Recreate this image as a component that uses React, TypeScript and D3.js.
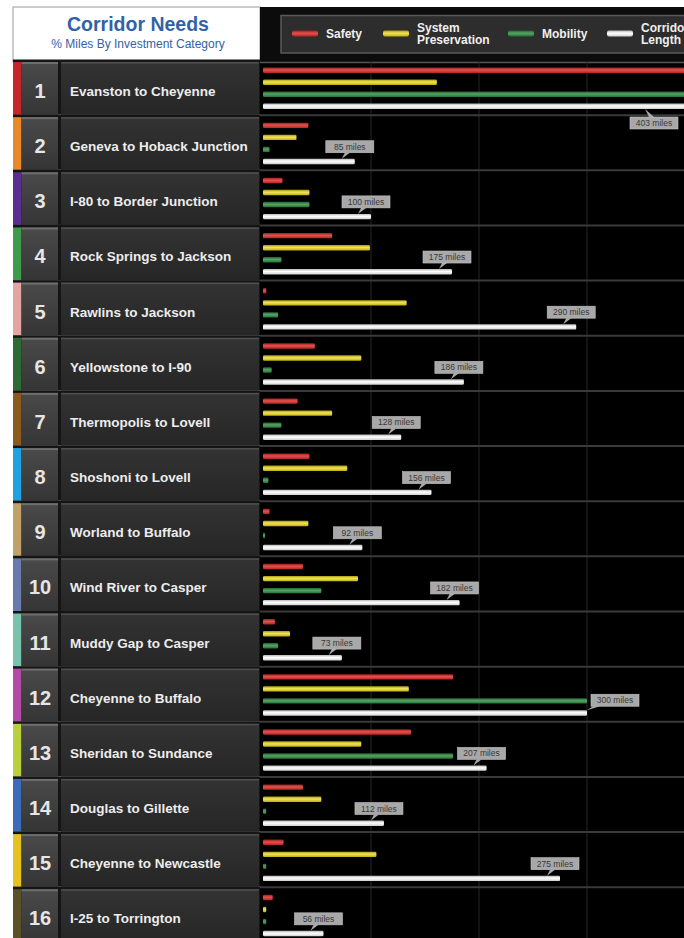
import React from "react";
import * as d3 from "d3";

// corridor names, top to bottom
const corridors = [
  "Evanston to Cheyenne",
  "Geneva to Hoback Junction",
  "I-80 to Border Junction",
  "Rock Springs to Jackson",
  "Rawlins to Jackson",
  "Yellowstone to I-90",
  "Thermopolis to Lovell",
  "Shoshoni to Lovell",
  "Worland to Buffalo",
  "Wind River to Casper",
  "Muddy Gap to Casper",
  "Cheyenne to Buffalo",
  "Sheridan to Sundance",
  "Douglas to Gillette",
  "Cheyenne to Newcastle",
  "I-25 to Torrington",
];

// miles per investment category
const safety = [403, 42, 18, 64, 3, 48, 32, 43, 6, 37, 11, 176, 137, 37, 19, 9];
const preservation = [161, 31, 43, 99, 133, 91, 64, 78, 42, 88, 25, 135, 91, 54, 105, 3];
const mobility = [403, 6, 43, 17, 14, 8, 17, 5, 2, 54, 14, 300, 176, 3, 3, 3];
const corridorLength = [403, 85, 100, 175, 290, 186, 128, 156, 92, 182, 73, 300, 207, 112, 275, 56];

const legendLabels = ["Safety", "System|Preservation", "Mobility", "Corridor|Length"];
const gridTicks = [100, 200, 300];

const stripeColors = [
  "#c4262c", "#e98a2a", "#5a2f8f", "#3f9a4c", "#e3a4a2", "#2f6a34", "#8b5a1f", "#1fa3e0",
  "#bfa16a", "#6a7bab", "#79c3ae", "#b24aa6", "#b9cf3b", "#3c6bb8", "#e5c21f", "#5b5128",
];

const barGrad = [
  { id: "gRed", stops: ["#9e1c1c", "#e4524c", "#b22626"] },
  { id: "gYel", stops: ["#a89a0c", "#f2e458", "#bfae14"] },
  { id: "gGrn", stops: ["#24602f", "#52a663", "#2a6e37"] },
  { id: "gWht", stops: ["#b8b8b8", "#ffffff", "#cfcfcf"] },
];

const W = 684;
const H = 938;
const FONT = "'Liberation Sans', Arial, Helvetica, sans-serif";

export default function App() {
  const x = d3.scaleLinear().domain([0, 400]).range([263, 695]);
  const y = d3.scaleBand<number>().domain(d3.range(corridors.length)).range([62, 62 + 16 * 55.15]);
  const keys = ["safety", "preservation", "mobility", "length"];
  const sub = d3.scaleBand<string>().domain(keys).range([5.5, 47]).paddingInner(0.55);
  const series = [safety, preservation, mobility, corridorLength];
  const rowH = y.bandwidth();

  const labels = corridors.map((_, i) => {
    const len = corridorLength[i];
    const end = x(len);
    const barTop = (y(i) ?? 0) + (sub("length") ?? 0);
    const barBot = barTop + sub.bandwidth();
    const boxW = 48;
    const boxH = 12;
    let px = end - 11;
    let boxX = px - 18;
    let boxY = barTop - 6 - boxH;
    let tail = `M${px + 1},${boxY + boxH} L${px - 2},${barTop} L${px + 6},${boxY + boxH} Z`;
    const others = Math.max(safety[i], preservation[i], mobility[i]);
    if (end > W - 4) {
      boxX = W - 6 - boxW;
      px = boxX + 18;
      boxY = barBot + 8;
      tail = `M${px + 1},${boxY} L${px - 3},${barBot} L${px + 6},${boxY} Z`;
    } else if (x(others) > boxX - 2) {
      boxX = end + 4;
      boxY = barTop - 4 - boxH;
      tail = `M${boxX + 2},${boxY + boxH} L${end},${barTop} L${boxX + 9},${boxY + boxH} Z`;
    }
    return { i, len, boxX, boxY, boxW, boxH, tail };
  });

  const legendX = [292, 383, 508, 607];

  return (
    <svg
      width={W}
      height={H}
      style={{ position: "absolute", left: 0, top: 0, background: "#fff" }}
      fontFamily={FONT}
    >
      <defs>
        {barGrad.map((g) => (
          <linearGradient key={g.id} id={g.id} x1="0" x2="0" y1="0" y2="1">
            <stop offset="0%" stopColor={g.stops[0]} />
            <stop offset="45%" stopColor={g.stops[1]} />
            <stop offset="100%" stopColor={g.stops[2]} />
          </linearGradient>
        ))}
        <linearGradient id="numBox" x1="0" x2="0" y1="0" y2="1">
          <stop offset="0%" stopColor="#4a4a4a" />
          <stop offset="100%" stopColor="#353535" />
        </linearGradient>
        <linearGradient id="nameBox" x1="0" x2="0" y1="0" y2="1">
          <stop offset="0%" stopColor="#333" />
          <stop offset="100%" stopColor="#262626" />
        </linearGradient>
        <clipPath id="plotClip">
          <rect x={260} y={0} width={W - 260} height={H} />
        </clipPath>
      </defs>

      {/* header */}
      <rect x={13} y={7} width={247} height={55} fill="#fff" stroke="#9a9a9a" strokeWidth={1} />
      <text x={138} y={31} textAnchor="middle" fontSize={19.5} fontWeight="bold" fill="#3262a6">
        Corridor Needs
      </text>
      <text x={138} y={48} textAnchor="middle" fontSize={12} fill="#3262a6">
        % Miles By Investment Category
      </text>

      {/* legend strip */}
      <rect x={260} y={7} width={W - 260} height={55} fill="#0c0c0c" />
      <rect x={281} y={15.5} width={W - 281 + 5} height={37.5} fill="#2d2d2d" stroke="#5a5a5a" strokeWidth={1.5} />
      <g clipPath="url(#plotClip)">
        {legendLabels.map((lab, k) => {
          const lines = lab.split("|");
          const tx = legendX[k] + 34;
          return (
            <g key={lab}>
              <rect x={legendX[k]} y={30.5} width={26} height={6} rx={2} fill={`url(#${barGrad[k].id})`} />
              {lines.map((ln, j) => (
                <text
                  key={ln}
                  x={tx}
                  y={lines.length === 1 ? 38 : 31.5 + j * 12.5}
                  fontSize={12}
                  fontWeight="bold"
                  fill="#f0f0f0"
                >
                  {ln}
                </text>
              ))}
            </g>
          );
        })}
      </g>

      {/* plot background */}
      <rect x={260} y={62} width={W - 260} height={H - 62} fill="#000" />
      <line x1={260} x2={W} y1={62.5} y2={62.5} stroke="#555" strokeWidth={1.5} />

      <g clipPath="url(#plotClip)">
        {gridTicks.map((t) => (
          <line key={t} x1={x(t)} x2={x(t)} y1={62} y2={H} stroke="#262626" strokeWidth={1} />
        ))}
        {corridors.map((_, i) =>
          i === 0 ? null : (
            <line
              key={`sep${i}`}
              x1={260}
              x2={W}
              y1={(y(i) ?? 0) - 2}
              y2={(y(i) ?? 0) - 2}
              stroke="#3a3a3a"
              strokeWidth={2}
            />
          )
        )}
        {corridors.map((_, i) =>
          series.map((s, k) => (
            <rect
              key={`b${i}-${k}`}
              x={x(0)}
              y={(y(i) ?? 0) + (sub(keys[k]) ?? 0)}
              width={Math.max(0, x(s[i]) - x(0))}
              height={sub.bandwidth()}
              rx={1.2}
              fill={`url(#${barGrad[k].id})`}
            />
          ))
        )}
        {labels.map((l) => (
          <g key={`lab${l.i}`}>
            <path d={l.tail} fill="#a8a8a8" />
            <rect x={l.boxX} y={l.boxY} width={l.boxW} height={l.boxH} fill="#a8a8a8" stroke="#c4c4c4" strokeWidth={0.6} />
            <text
              x={l.boxX + l.boxW / 2}
              y={l.boxY + l.boxH / 2 + 3}
              textAnchor="middle"
              fontSize={8.5}
              fill="#383838"
            >
              {`${l.len} miles`}
            </text>
          </g>
        ))}
      </g>

      {/* left row panels */}
      {corridors.map((name, i) => {
        const top = y(i) ?? 0;
        const h = rowH - 2.5;
        return (
          <g key={name}>
            <rect x={13} y={top - 2.5} width={247} height={rowH} fill="#151515" />
            <rect x={13} y={top} width={8.5} height={h} fill={stripeColors[i]} />
            <rect x={21.5} y={top} width={36.5} height={h} fill="url(#numBox)" />
            <rect x={21.5} y={top} width={36.5} height={2} fill="#6e6e6e" />
            <rect x={61} y={top} width={198} height={h} fill="url(#nameBox)" />
            <rect x={61} y={top} width={198} height={1.5} fill="#505050" />
            <text
              x={40}
              y={top + 29 + 7}
              textAnchor="middle"
              fontSize={20}
              fontWeight="bold"
              fill="#e6e6e6"
            >
              {i + 1}
            </text>
            <text x={70} y={top + 29 + 5} fontSize={13.5} fontWeight="bold" fill="#ededed">
              {name}
            </text>
          </g>
        );
      })}
    </svg>
  );
}
